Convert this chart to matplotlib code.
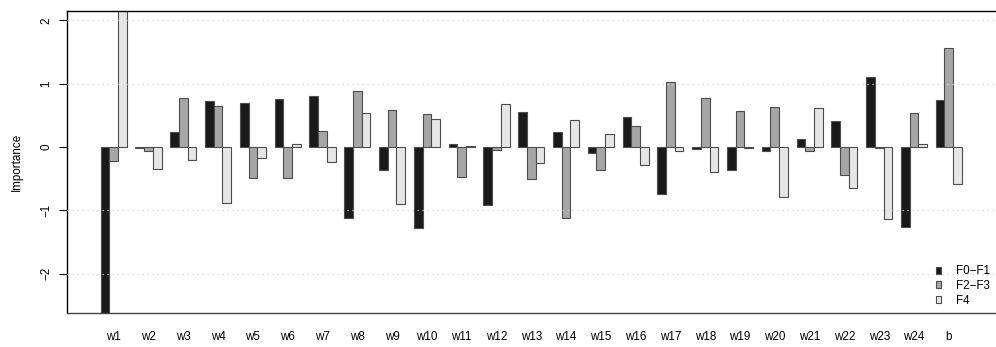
import numpy as np
import matplotlib
matplotlib.use("Agg")
import matplotlib.pyplot as plt
from matplotlib.patches import Patch

plt.rcParams["font.family"] = ["Liberation Sans", "DejaVu Sans"]

features = ["w1", "w2", "w3", "w4", "w5", "w6", "w7", "w8", "w9", "w10",
            "w11", "w12", "w13", "w14", "w15", "w16", "w17", "w18", "w19",
            "w20", "w21", "w22", "w23", "w24", "b"]
groups = ["F0\u2212F1", "F2\u2212F3", "F4"]

f0_f1 = [-2.95, -0.02, 0.24, 0.73, 0.70, 0.76, 0.80, -1.12, -0.37, -1.28,
         0.04, -0.92, 0.56, 0.23, -0.09, 0.47, -0.74, -0.03, -0.37, -0.06,
         0.12, 0.41, 1.11, -1.26, 0.75]
f2_f3 = [-0.22, -0.07, 0.78, 0.64, -0.49, -0.49, 0.26, 0.88, 0.59, 0.52,
         -0.48, -0.05, -0.51, -1.12, -0.36, 0.33, 1.03, 0.78, 0.57, 0.63,
         -0.07, -0.44, -0.02, 0.54, 1.56]
f4 = [2.60, -0.34, -0.20, -0.88, -0.18, 0.05, -0.23, 0.53, -0.90, 0.45,
      0.02, 0.68, -0.26, 0.43, 0.21, -0.28, -0.06, -0.39, -0.02, -0.79,
      0.62, -0.65, -1.13, 0.05, -0.58]

series = [f0_f1, f2_f3, f4]
fills = ["#1a1a1a", "#a6a6a6", "#e6e6e6"]

FS = 8.4
W, H = 996, 347
fig = plt.figure(figsize=(W / 100, H / 100), dpi=100)

# axes box in pixels: left 66.7, top 10.7, bottom 313.3, runs past right edge
left_px, top_px, bot_px = 66.7, 10.7, 313.3
ax = fig.add_axes([left_px / W, 1 - bot_px / H, 1 - left_px / W, (bot_px - top_px) / H])

n = len(features)
starts = 4 * np.arange(n) + 1  # each group: 3 bars of width 1, then a gap of 1
for k, (vals, col) in enumerate(zip(series, fills)):
    ax.bar(starts + k, vals, width=1.0, align="edge", color=col,
           edgecolor="#4d4d4d", linewidth=0.8, zorder=2)

# dotted reference lines drawn above the bars
for yv in [-2, -1, 1, 2]:
    ax.axhline(yv, color="#d3d3d3", linestyle=(0, (1, 3)), linewidth=0.9, zorder=3)

px_per_unit = 8.698
x0_px = 100.7
ax.set_xlim(1 - (x0_px - left_px) / px_per_unit, 1 + (W - x0_px) / px_per_unit)
ax.set_ylim(-2.627, 2.153)

ax.set_xticks(starts + 1.5)
ax.set_xticklabels(features, fontsize=FS)
ax.tick_params(axis="x", length=0, pad=13.0)

ax.set_yticks([-2, -1, 0, 1, 2])
ax.set_yticklabels(["\u22122", "\u22121", "0", "1", "2"], fontsize=FS,
                   rotation=90, va="center")
ax.tick_params(axis="y", length=5.5, width=0.8, pad=5)

ax.spines["right"].set_visible(False)
ax.spines["top"].set_linewidth(1.0)
ax.spines["left"].set_linewidth(1.0)
ax.spines["bottom"].set_linewidth(1.0)
ax.spines["bottom"].set_color("#444444")

fig.text(17 / W, 1 - 162 / H, "Importance", rotation=90, ha="center",
         va="center", fontsize=FS)

handles = [Patch(facecolor=c, edgecolor="#4d4d4d", linewidth=0.8) for c in fills]
ax.legend(handles, groups, loc="lower left", frameon=False, fontsize=FS,
          bbox_to_anchor=(935.5 / W, 1 - 306.5 / H), bbox_transform=fig.transFigure,
          handlelength=0.5, handleheight=0.5, handletextpad=1.25,
          labelspacing=0.22, borderpad=0, borderaxespad=0)

fig.savefig("out.png", dpi=100)
